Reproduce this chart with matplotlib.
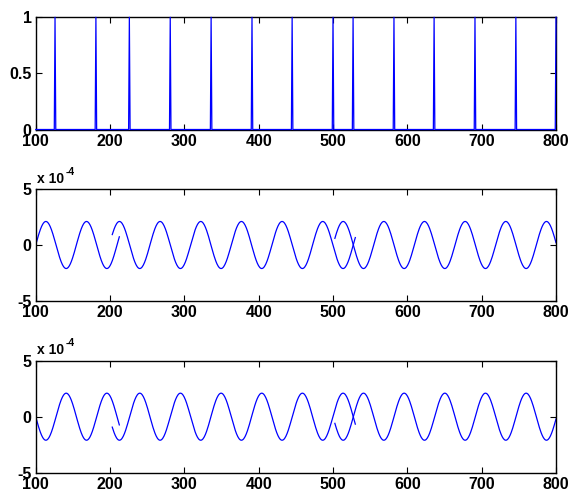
import numpy as np
import matplotlib
matplotlib.use("Agg")
import matplotlib.pyplot as plt
from matplotlib.transforms import offset_copy

# ---- data ----
x_limits = [100, 800]
x_ticks = [100, 200, 300, 400, 500, 600, 700, 800]
x_tick_labels = ["100", "200", "300", "400", "500", "600", "700", "800"]

# top panel: impulse train (value 1 at these samples, 0 elsewhere)
spike_x = [126, 181, 226, 281, 336, 391, 445, 500, 527, 582, 636, 691, 746, 800]
top_yticks = [0, 0.5, 1]
top_ytick_labels = ["0", "0.5", "1"]

# middle / bottom panels: three overlapping sinusoid segments
wave_period = 54.7
wave_amplitude = 2.1e-4
seg_phase_zero = [100, 199, 500]
seg_start = [100, 203, 502.5]
seg_end = [212.5, 530, 800]
panel_sign = [1, -1]          # middle panel, bottom panel
wave_yticks = [-5e-4, 0, 5e-4]
wave_ytick_labels = ["-5", "0", "5"]
scale_base = "x 10"
scale_exp = "-4"

# ---- style ----
plt.rcParams["font.family"] = ["Liberation Sans", "DejaVu Sans"]
plt.rcParams["font.weight"] = "bold"
line_color = "#0000ff"

W, H = 570, 495
fig = plt.figure(figsize=(W / 100, H / 100), dpi=100)

def axes_px(left, top, right, bottom):
    return fig.add_axes([left / W, 1 - bottom / H, (right - left) / W, (bottom - top) / H])

ax_top = axes_px(35.7, 17.3, 556, 129.5)
ax_mid = axes_px(35.7, 189, 556, 301)
ax_bot = axes_px(35.7, 360.7, 556, 472.7)

def style(ax, yticks, ylabels, ylim):
    ax.set_xlim(x_limits)
    ax.set_ylim(ylim)
    ax.set_xticks(x_ticks)
    ax.set_xticklabels(x_tick_labels)
    ax.set_yticks(yticks)
    ax.set_yticklabels(ylabels)
    ax.tick_params(direction="in", top=True, right=True, length=4, width=0.8,
                   labelsize=11.5, pad=3)
    for lab in ax.get_xticklabels() + ax.get_yticklabels():
        lab.set_fontweight("bold")
    for s in ax.spines.values():
        s.set_linewidth(1.0)

# top panel
n = np.arange(x_limits[0], x_limits[1] + 1)
impulse = np.isin(n, spike_x).astype(float)
ax_top.plot(n, impulse, color=line_color, lw=0.9, zorder=3, clip_on=False)
style(ax_top, top_yticks, top_ytick_labels, (0, 1))

# wave panels
renderer = fig.canvas.get_renderer()
for ax, sgn in zip([ax_mid, ax_bot], panel_sign):
    for p0, a, b in zip(seg_phase_zero, seg_start, seg_end):
        xs = np.linspace(a, b, 400)
        ys = sgn * wave_amplitude * np.sin(2 * np.pi * (xs - p0) / wave_period)
        ax.plot(xs, ys, color=line_color, lw=0.9)
    style(ax, wave_yticks, wave_ytick_labels, (-5e-4, 5e-4))
    t = ax.text(0.003, 1.03, scale_base, transform=ax.transAxes, ha="left",
                va="bottom", fontsize=10, fontweight="bold")
    bb = t.get_window_extent(renderer=renderer)
    x_end = bb.x1
    fig.text((x_end + 1) / W, (bb.y1 - 5) / H, scale_exp, ha="left", va="bottom",
             fontsize=7.5, fontweight="bold")

fig.savefig("out.png", dpi=100)
